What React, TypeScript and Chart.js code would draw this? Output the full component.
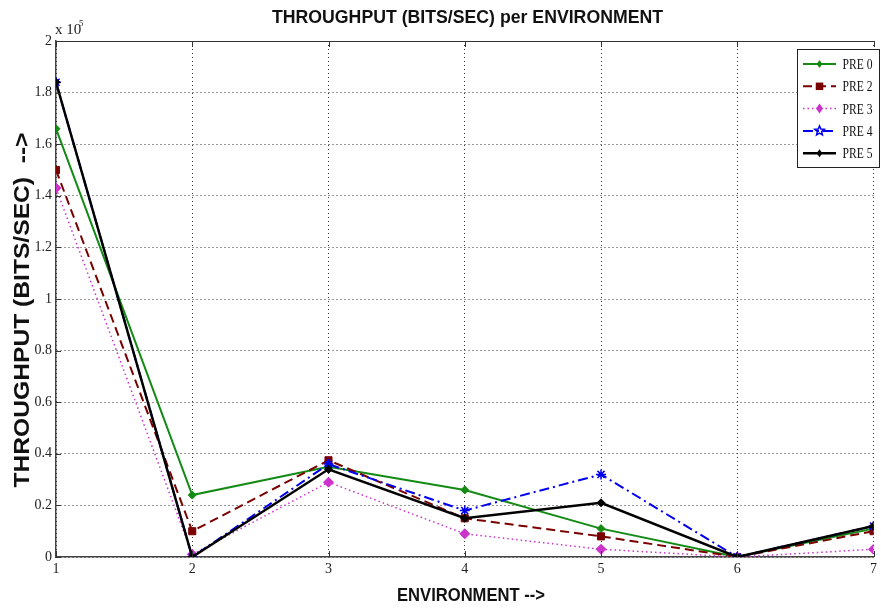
import React, { useEffect, useRef } from "react";
import { Chart, registerables } from "chart.js";

Chart.register(...registerables);

// Environment index (x axis)
const environments = [1, 2, 3, 4, 5, 6, 7];
// Throughput values in units of 10^5 bits/sec
const pre0 = [1.66, 0.24, 0.35, 0.26, 0.11, 0.0, 0.11];
const pre2 = [1.5, 0.1, 0.375, 0.15, 0.08, 0.0, 0.1];
const pre3 = [1.43, 0.01, 0.29, 0.09, 0.03, 0.0, 0.03];
const pre4 = [1.84, 0.0, 0.36, 0.18, 0.32, 0.0, 0.12];
const pre5 = [1.84, 0.0, 0.34, 0.15, 0.21, 0.0, 0.12];
const seriesNames = ["PRE 0", "PRE 2", "PRE 3", "PRE 4", "PRE 5"];
const yTicks = [0, 0.2, 0.4, 0.6, 0.8, 1, 1.2, 1.4, 1.6, 1.8, 2];

const TITLE = "THROUGHPUT (BITS/SEC) per ENVIRONMENT";
const X_TITLE = "ENVIRONMENT -->";
const Y_TITLE = "THROUGHPUT (BITS/SEC)  -->";

const serif = "'Liberation Serif', 'DejaVu Serif', serif";
const sans = "'Liberation Sans', Arial, sans-serif";

const styles = [
  { color: "#138a13", dash: [], width: 2, point: "rectRot", radius: 4 },
  { color: "#7a0000", dash: [9, 5], width: 2, point: "rect", radius: 5 },
  { color: "#cc33cc", dash: [1.5, 3], width: 1.5, point: "rectRot", radius: 5 },
  { color: "#0000ee", dash: [10, 4, 2, 4], width: 2, point: "star", radius: 5 },
  { color: "#000000", dash: [], width: 2.5, point: "rectRot", radius: 4 },
];

function fitText(ctx: any, text: string, cx: number, cy: number, width: number, rot: number) {
  ctx.save();
  ctx.translate(cx, cy);
  if (rot) ctx.rotate(rot);
  const w = ctx.measureText(text).width;
  ctx.scale(width / w, 1);
  ctx.textAlign = "center";
  ctx.textBaseline = "middle";
  ctx.fillText(text, 0, 0);
  ctx.restore();
}

function drawPoint(ctx: any, style: string, r: number, x: number, y: number, color: string) {
  ctx.save();
  ctx.fillStyle = color;
  ctx.strokeStyle = color;
  ctx.lineWidth = 1.5;
  ctx.beginPath();
  if (style === "rect") {
    ctx.rect(x - r * 0.75, y - r * 0.75, r * 1.5, r * 1.5);
    ctx.fill();
  } else if (style === "rectRot") {
    ctx.moveTo(x, y - r);
    ctx.lineTo(x + r * 0.7, y);
    ctx.lineTo(x, y + r);
    ctx.lineTo(x - r * 0.7, y);
    ctx.closePath();
    ctx.fill();
  } else {
    for (let k = 0; k < 10; k++) {
      const rr = k % 2 === 0 ? r : r * 0.45;
      const a = -Math.PI / 2 + (k * Math.PI) / 5;
      const px = x + rr * Math.cos(a);
      const py = y + rr * Math.sin(a);
      if (k === 0) ctx.moveTo(px, py);
      else ctx.lineTo(px, py);
    }
    ctx.closePath();
    ctx.stroke();
  }
  ctx.restore();
}

const overlayPlugin = {
  id: "overlay",
  afterDraw(chart: any) {
    const ctx = chart.ctx;
    const area = chart.chartArea;
    const xs = chart.scales.x;
    const ys = chart.scales.y;
    ctx.save();
    // top frame
    ctx.strokeStyle = "#333";
    ctx.lineWidth = 1;
    ctx.setLineDash([]);
    ctx.beginPath();
    ctx.moveTo(area.left, area.top + 0.5);
    ctx.lineTo(area.right, area.top + 0.5);
    ctx.stroke();
    // inward ticks
    ctx.beginPath();
    for (const v of yTicks) {
      const y = Math.round(ys.getPixelForValue(v)) + 0.5;
      ctx.moveTo(area.left, y);
      ctx.lineTo(area.left + 5, y);
    }
    for (const v of environments) {
      const x = Math.round(xs.getPixelForValue(v)) + 0.5;
      ctx.moveTo(x, area.bottom);
      ctx.lineTo(x, area.bottom - 6);
      ctx.moveTo(x, area.top);
      ctx.lineTo(x, area.top + 6);
    }
    ctx.stroke();

    // exponent label
    ctx.fillStyle = "#222";
    ctx.font = `15px ${serif}`;
    ctx.textAlign = "left";
    ctx.textBaseline = "alphabetic";
    ctx.fillText("x 10", 55, 34);
    ctx.font = `9px ${serif}`;
    ctx.fillText("5", 79, 26);

    // titles
    ctx.fillStyle = "#111";
    ctx.font = `bold 18px ${sans}`;
    fitText(ctx, TITLE, 467.5, 18, 391, 0);
    ctx.font = `bold 18px ${sans}`;
    fitText(ctx, X_TITLE, 471, 596, 148, 0);
    ctx.font = `bold 22px ${sans}`;
    fitText(ctx, Y_TITLE, 23, 310, 355, -Math.PI / 2);

    // legend
    const lx = 797, ly = 49, lw = 82, lh = 118;
    ctx.fillStyle = "#fff";
    ctx.fillRect(lx, ly, lw, lh);
    ctx.strokeStyle = "#222";
    ctx.lineWidth = 1;
    ctx.setLineDash([]);
    ctx.strokeRect(lx + 0.5, ly + 0.5, lw, lh);
    chart.data.datasets.forEach((ds: any, i: number) => {
      const y = 64 + i * 22.3;
      const st = styles[i];
      ctx.strokeStyle = st.color;
      ctx.lineWidth = st.width;
      ctx.setLineDash(st.dash);
      ctx.beginPath();
      ctx.moveTo(803, y);
      ctx.lineTo(836, y);
      ctx.stroke();
      ctx.setLineDash([]);
      drawPoint(ctx, st.point, st.radius, 819.5, y, st.color);
      ctx.fillStyle = "#111";
      ctx.font = `15px ${serif}`;
      fitText(ctx, ds.label, 857.5, y + 1, 30, 0);
    });
    ctx.restore();
  },
};

export default function App() {
  const ref = useRef<HTMLCanvasElement>(null);
  useEffect(() => {
    document.body.style.margin = "0";
    const all = [pre0, pre2, pre3, pre4, pre5];
    const chart = new Chart(ref.current as HTMLCanvasElement, {
      type: "line",
      data: {
        labels: environments,
        datasets: all.map((vals, i) => ({
          label: seriesNames[i],
          data: vals.map((v, j) => ({ x: environments[j], y: v })),
          borderColor: styles[i].color,
          backgroundColor: styles[i].color,
          borderWidth: styles[i].width,
          borderDash: styles[i].dash,
          pointStyle: styles[i].point as any,
          pointRadius: styles[i].radius,
          pointBorderWidth: styles[i].point === "star" ? 1.5 : 1,
          tension: 0,
          fill: false,
          order: all.length - 1 - i,
        })),
      },
      options: {
        responsive: false,
        animation: false,
        layout: { padding: { top: 41, right: 0, left: 0, bottom: 0 } },
        plugins: { legend: { display: false }, title: { display: false }, tooltip: { enabled: false } },
        scales: {
          x: {
            type: "linear",
            min: 1,
            max: 7,
            afterFit: (s: any) => { s.height = 53; },
            afterBuildTicks: (s: any) => { s.ticks = environments.map((v) => ({ value: v })); },
            ticks: {
              font: { family: serif, size: 14 },
              color: "#222",
              padding: 4,
              maxRotation: 0,
              autoSkip: false,
              callback: (v: any) => String(v),
            },
            grid: { color: "#333", lineWidth: 1, drawTicks: false },
            border: { display: true, color: "#444", width: 1.5, dash: [1, 3] },
          },
          y: {
            min: 0,
            max: 2,
            afterFit: (s: any) => { s.width = 56; },
            afterBuildTicks: (s: any) => { s.ticks = yTicks.map((v) => ({ value: v })); },
            ticks: {
              font: { family: serif, size: 14 },
              color: "#222",
              padding: 4,
              autoSkip: false,
              callback: (v: any) => String(Math.round(v * 10) / 10),
            },
            grid: { color: "#333", lineWidth: 1, drawTicks: false },
            border: { display: true, color: "#444", width: 1.5, dash: [1, 3] },
          },
        },
      },
      plugins: [overlayPlugin],
    } as any);
    return () => chart.destroy();
  }, []);
  return <canvas ref={ref} width={881} height={610} style={{ display: "block" }} />;
}
